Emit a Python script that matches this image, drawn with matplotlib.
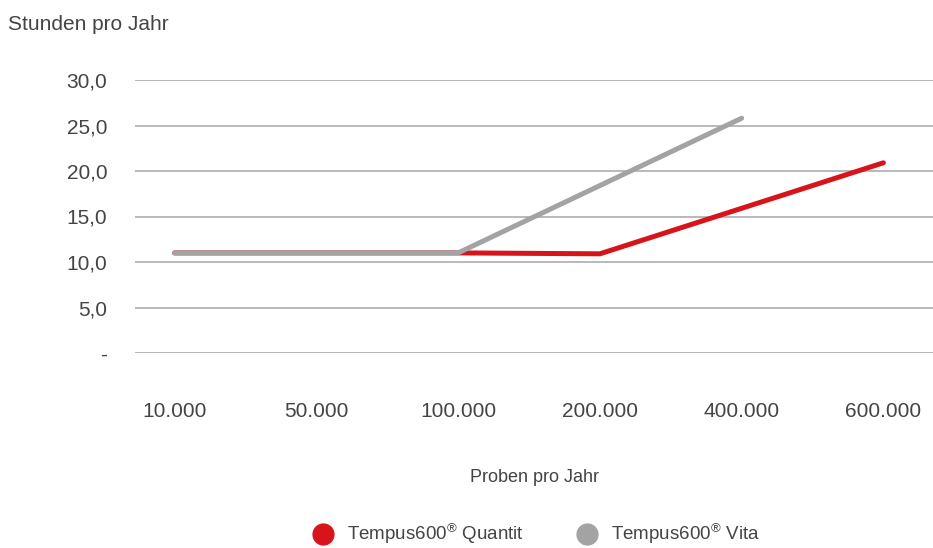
import matplotlib.pyplot as plt
from matplotlib.lines import Line2D
import matplotlib.ticker as mticker

plt.rcParams['font.family'] = ['Liberation Sans', 'DejaVu Sans']
plt.rcParams['mathtext.fontset'] = 'custom'
plt.rcParams['mathtext.rm'] = 'Liberation Sans'

# data
proben = ['10.000', '50.000', '100.000', '200.000', '400.000', '600.000']
quantit = [11.0, 11.0, 11.0, 10.9, 15.9, 20.9]
vita = [11.0, 11.0, 11.0, 18.4, 25.8]
y_ticks = [0, 5, 10, 15, 20, 25, 30]

red = '#d7141a'
grey = '#a3a3a3'
text_col = '#444444'

fig = plt.figure(figsize=(9.33, 5.48), dpi=100)
ax = fig.add_axes([135 / 933, 1 - 353 / 548, 798 / 933, 273 / 548])

x_q = list(range(len(quantit)))
x_v = list(range(len(vita)))
ax.plot(x_q, quantit, color=red, lw=3.6, solid_capstyle='round', clip_on=False, zorder=3)
ax.plot(x_v, vita, color=grey, lw=3.6, solid_capstyle='round', clip_on=False, zorder=4)

ax.set_xlim(-0.28, 5.35)
ax.set_ylim(0, 30)
ax.set_yticks(y_ticks)
ax.yaxis.set_major_formatter(mticker.FuncFormatter(
    lambda v, p: '-' if v == 0 else f'{v:.1f}'.replace('.', ',')))
ax.set_xticks(range(len(proben)))
ax.set_xticklabels(proben)

ax.grid(axis='y', color='#b3b3b3', lw=1.3)
ax.set_axisbelow(True)
for s in ax.spines.values():
    s.set_visible(False)
ax.tick_params(axis='both', length=0, labelsize=15, labelcolor=text_col)
ax.tick_params(axis='y', pad=20)
ax.tick_params(axis='x', pad=35)

fig.text(8 / 933, 1 - 25 / 548, 'Stunden pro Jahr', fontsize=15, color=text_col,
         ha='left', va='center')
fig.text(534 / 933, 1 - 477 / 548, 'Proben pro Jahr', fontsize=13, color=text_col,
         ha='center', va='center')

handles = [
    Line2D([], [], ls='none', marker='o', ms=15, color=red),
    Line2D([], [], ls='none', marker='o', ms=15, color=grey),
]
labels = ['Tempus600$^{®}$ Quantit', 'Tempus600$^{®}$ Vita']
fig.legend(handles, labels, loc='center',
           bbox_to_anchor=(532 / 933, 1 - 534 / 548), ncol=2, frameon=False,
           fontsize=13.5, labelcolor=text_col, handletextpad=0.3, columnspacing=2.35)

fig.savefig('out.png', dpi=100)
